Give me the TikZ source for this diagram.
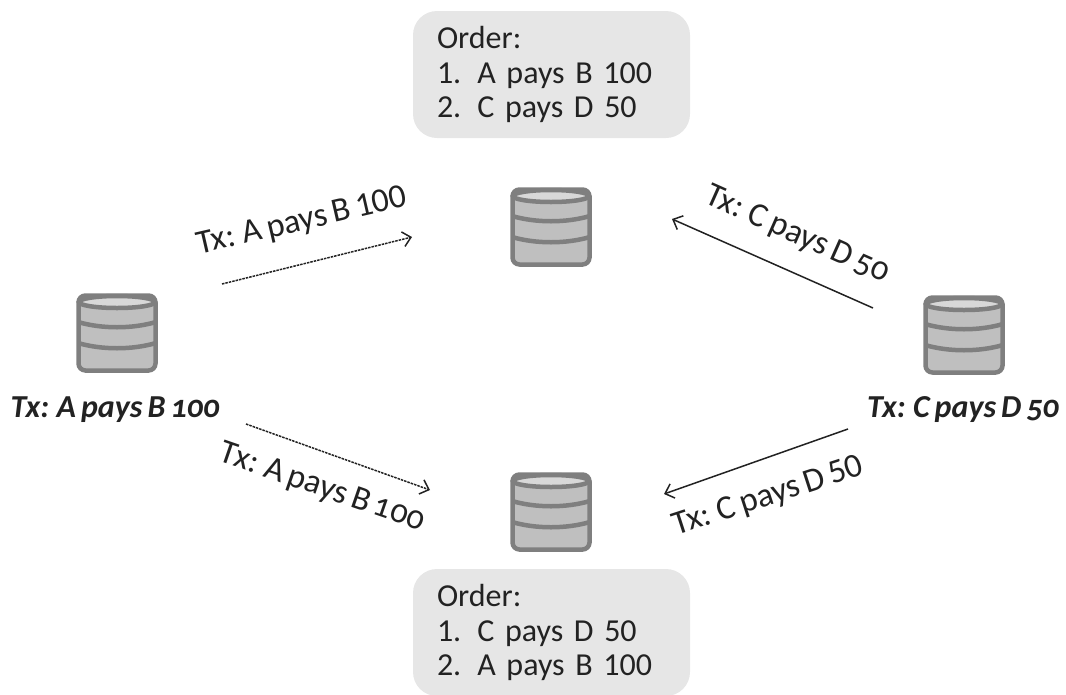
\documentclass[tikz,border=0pt]{standalone}
\usepackage{fontspec}
\setmainfont[WordSpace=0.7]{Carlito}
\newfontfamily\oldnums[Numbers=OldStyle,WordSpace=0.7]{Carlito}
\usetikzlibrary{arrows.meta,positioning}
\definecolor{dbline}{HTML}{7F7F7F}
\definecolor{dbfill}{HTML}{BFBFBF}
\definecolor{dbtop}{HTML}{D8D8D8}
\definecolor{boxfill}{HTML}{E6E6E6}
\definecolor{txtcol}{HTML}{222222}
\begin{document}
\begin{tikzpicture}[x=1pt,y=-1pt,>={Straight Barb[length=8pt,width=15pt]},text=txtcol]

  \tikzstyle{db}=[rectangle,rounded corners=7pt,draw=dbline,fill=dbfill,line width=4.5pt,
    minimum width=77pt,minimum height=75pt,inner sep=0pt]
  \tikzstyle{dbband}=[dbline,line width=4.5pt]
  \tikzstyle{orderbox}=[rectangle,rounded corners=24pt,fill=boxfill,minimum width=277pt,
    minimum height=127pt,text width=229pt,align=left,font=\fontsize{32}{34.5}\selectfont]
  \tikzstyle{txlabel}=[font=\fontsize{34}{34}\selectfont,inner sep=0pt]
  \tikzstyle{holds}=[font=\fontsize{32}{32}\selectfont\bfseries\itshape\oldnums,inner sep=0pt]
  \tikzstyle{sent}=[->,txtcol,line width=1.5pt]
  \tikzstyle{sentdotted}=[sent,dash pattern=on 2.5pt off 1pt]

  \useasboundingbox (0,0) rectangle (1066,694);

  % the four peers
  \node [db] (dbTop)    at (551,227) {};
  \node [db] (dbLeft)   at (117,333) {};
  \node [db] (dbRight)  at (964,335) {};
  \node [db] (dbBottom) at (551,512) {};

  \foreach \peer in {dbTop,dbLeft,dbRight,dbBottom} {
    \draw [dbband,fill=dbtop,shift={(\peer.center)}] (0,-31) ellipse [x radius=38,y radius=6];
    \draw [dbband,shift={(\peer.center)}]
      (-39,-11) .. controls (-15,-4) and (15,-4) .. (39,-11)
      (-39,10) .. controls (-15,17) and (15,17) .. (39,10);
  }

  \node [holds] (holdsA) [below=24pt of dbLeft.south,xshift=-2pt]  {Tx: A pays B 100};
  \node [holds] (holdsC) [below=22pt of dbRight.south,xshift=-1pt] {Tx: C pays D 50};

  \node [orderbox] (orderTop)    at (551.5,74.5)
    {Order:\\1. A pays B 100\\2. C pays D 50};
  \node [orderbox] (orderBottom) at (551.5,632.5)
    {Order:\\1. C pays D 50\\2. A pays B 100};

  % free ends of the connectors
  \coordinate (a1) at (222,284);
  \coordinate (a2) at (412,237);
  \coordinate (b1) at (246,424);
  \coordinate (b2) at (430,490);
  \coordinate (c1) at (873,308);
  \coordinate (c2) at (672,219);
  \coordinate (d1) at (848,429);
  \coordinate (d2) at (664,494);

  \draw [sentdotted] (a1) -- (a2);
  \draw [sentdotted] (b1) -- (b2);
  \draw [sent]       (c1) -- (c2);
  \draw [sent]       (d1) -- (d2);

  \node [txlabel,rotate=13]  (labelA) at (302,222) {Tx: A pays B 100};
  \node [txlabel,rotate=-19] (labelB) at (322,488) {Tx: A pays B \oldnums 100};
  \node [txlabel,rotate=-24] (labelC) at (797,235) {Tx: C pays D \oldnums 50};
  \node [txlabel,rotate=18]  (labelD) at (768,497) {Tx: C pays D 50};
\end{tikzpicture}
\end{document}
